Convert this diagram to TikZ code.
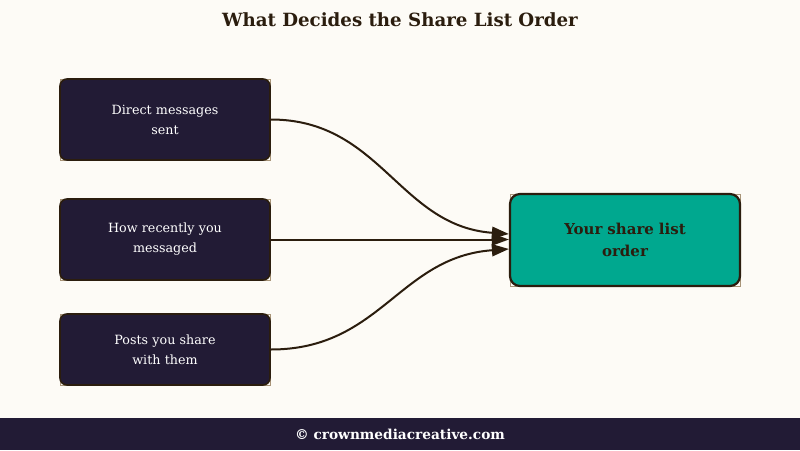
\documentclass[tikz,border=0pt]{standalone}
\usepackage{fontspec}
\setmainfont{DejaVu Serif}
\usetikzlibrary{arrows.meta}
\definecolor{bg}{HTML}{FDFBF6}
\definecolor{navy}{HTML}{221B35}
\definecolor{brn}{HTML}{2B1D0E}
\definecolor{teal}{HTML}{00A88F}
\definecolor{tan}{HTML}{A89478}
\tikzset{
  srcbox/.style={draw=brn, line width=1.6pt, fill=navy, rounded corners=7pt, minimum width=210pt, text width=190pt, align=center, text=white, font=\fontsize{12.7}{20}\selectfont, inner sep=0pt},
  dstbox/.style={draw=brn, line width=2.2pt, fill=teal, rounded corners=10pt, minimum width=230pt, minimum height=92pt, text width=200pt, align=center, text=brn, font=\bfseries\fontsize{15}{22}\selectfont, inner sep=0pt},
  halo/.style={draw=tan, line width=0.6pt},
  conn/.style={draw=brn, line width=2pt, -{Triangle[length=17pt,width=12pt]}}
}
\begin{document}
\begin{tikzpicture}[x=1pt,y=-1pt]
\fill[bg] (0,0) rectangle (800,450);
\useasboundingbox (0,0) rectangle (800,450);
\node[font=\bfseries\fontsize{18.2}{20}\selectfont, text=brn] (title) at (400,20) {What Decides the Share List Order};
% halos
\draw[halo] (60,79) rectangle (270,160);
\draw[halo] (60,199) rectangle (270,280);
\draw[halo] (60,314) rectangle (270,385);
\draw[halo] (510,194) rectangle (740,286);
\node[srcbox, minimum height=81pt] (a) at (165,119.5) {Direct messages\\sent};
\node[srcbox, minimum height=81pt] (b) at (165,239.5) {How recently you\\messaged};
\node[srcbox, minimum height=71pt] (c) at (165,349.5) {Posts you share\\with them};
\node[dstbox] (t) at (625,240) {Your share list\\order};
\draw[conn] (a.east) .. controls ++(110,0) and ++(-110,-8) .. ([yshift=6pt]t.west);
\draw[conn] (b.east) -- (b.east -| t.west);
\draw[conn] (c.east) .. controls ++(110,0) and ++(-110,8) .. ([yshift=-9pt]t.west);
\fill[navy] (0,418) rectangle (800,450);
\node[font=\bfseries\fontsize{13.7}{16}\selectfont, text=white] (foot) at (400,434) {© crownmediacreative.com};
\end{tikzpicture}
\end{document}
